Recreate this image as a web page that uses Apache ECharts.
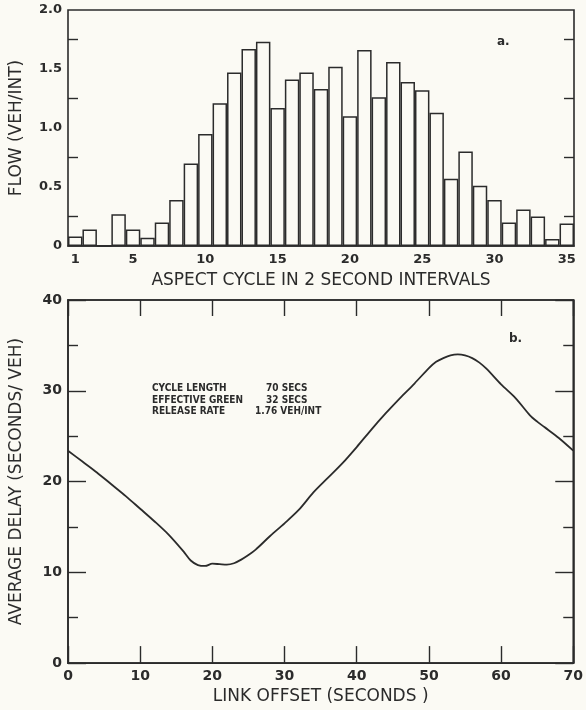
<!DOCTYPE html>
<html>
<head>
<meta charset="utf-8">
<script src="https://cdn.jsdelivr.net/npm/echarts@6/dist/echarts.min.js"></script>
<style>
  html, body { margin: 0; padding: 0; background: #fbfaf4; }
  #main { width: 586px; height: 710px; }
</style>
</head>
<body>
<div id="main"></div>
<script>
// panel a: flow per 2 second interval of the aspect cycle
const bins = ['1','2','3','4','5','6','7','8','9','10','11','12','13','14','15','16','17','18',
              '19','20','21','22','23','24','25','26','27','28','29','30','31','32','33','34','35']
const binTicks = ['1','5','10','15','20','25','30','35']
const flow = [0.08, 0.14, 0, 0.27, 0.14, 0.07, 0.20, 0.39, 0.70, 0.95, 1.21, 1.47, 1.67, 1.73, 1.17, 1.41,
              1.47, 1.33, 1.52, 1.10, 1.66, 1.26, 1.56, 1.39, 1.32, 1.13, 0.57, 0.80, 0.51, 0.39, 0.20,
              0.31, 0.25, 0.06, 0.19]

// panel b: average delay against link offset
const offset = [0, 2, 4, 6, 8, 10, 12, 14, 16, 17, 18, 19, 20, 21, 22, 23, 24, 25, 26, 28, 30, 32, 34, 36,
                38, 40, 42, 44, 46, 48, 50, 51, 52, 53, 54, 55, 56, 57, 58, 60, 62, 64, 65, 66, 68, 70]
const delay = [23.4, 22.2, 21.0, 19.7, 18.4, 17.0, 15.6, 14.1, 12.3, 11.3, 10.8, 10.7, 10.95, 10.9, 10.85,
               11.0, 11.4, 11.9, 12.5, 14.0, 15.4, 16.9, 18.8, 20.4, 22.0, 23.8, 25.7, 27.5, 29.2, 30.8,
               32.5, 33.2, 33.6, 33.9, 34.0, 33.9, 33.6, 33.1, 32.4, 30.7, 29.2, 27.3, 26.6, 26.0, 24.8, 23.4]

const noteLabels = ['CYCLE LENGTH', 'EFFECTIVE GREEN', 'RELEASE RATE']
const noteValues = ['70 SECS', '32 SECS', '1.76 VEH/INT']

const ink = '#2b2b2b'
const font = 'DejaVu Sans'

const chart = echarts.init(document.getElementById('main'))

const tickLabel = { color: ink, fontFamily: font, fontSize: 13, fontWeight: 'bold' }
const tickLabelB = { color: ink, fontFamily: font, fontSize: 14, fontWeight: 'bold' }
const axisName = { color: ink, fontFamily: font, fontSize: 17 }
const line = { onZero: false, lineStyle: { color: ink, width: 1.6 } }
const tick = len => ({ inside: true, length: len, lineStyle: { color: ink, width: 1.4 } })
const minor = { show: true, splitNumber: 2, length: 10, lineStyle: { color: ink, width: 1.4 } }

const option = {
    backgroundColor: '#fbfaf4',
    animation: false,
    grid: [
        { left: 68, top: 10, width: 506, height: 236, show: true, borderColor: ink, borderWidth: 1.6, backgroundColor: 'transparent' },
        { left: 68, top: 300, width: 506, height: 366, show: true, borderColor: ink, borderWidth: 1.6, backgroundColor: 'transparent' }
    ],
    xAxis: [
        {
            gridIndex: 0, type: 'category', data: bins, boundaryGap: true,
            axisLine: line, axisTick: { show: false },
            axisLabel: Object.assign({}, tickLabel, {
                margin: 7,
                interval: (i, v) => binTicks.includes(v)
            }),
            name: 'ASPECT CYCLE IN 2 SECOND INTERVALS', nameLocation: 'middle', nameGap: 26,
            nameTextStyle: axisName
        },
        {
            gridIndex: 1, type: 'value', min: 0, max: 70, interval: 10,
            axisLine: line, axisTick: tick(17),
            axisLabel: Object.assign({}, tickLabelB, { margin: 6 }),
            splitLine: { show: false },
            name: 'LINK OFFSET (SECONDS )', nameLocation: 'middle', nameGap: 23,
            nameTextStyle: axisName
        },
        {
            gridIndex: 1, type: 'value', position: 'top', min: 0, max: 70, interval: 10,
            axisLine: line, axisTick: tick(16),
            axisLabel: { show: false },
            splitLine: { show: false }
        }
    ],
    yAxis: [
        {
            gridIndex: 0, type: 'value', min: 0, max: 2, interval: 0.5,
            axisLine: line, axisTick: tick(18), minorTick: minor,
            axisLabel: Object.assign({}, tickLabel, {
                margin: 6,
                formatter: v => v === 0 ? '0' : v.toFixed(1)
            }),
            splitLine: { show: false },
            name: 'FLOW (VEH/INT)', nameLocation: 'middle', nameGap: 43,
            nameTextStyle: axisName
        },
        {
            gridIndex: 0, type: 'value', position: 'right', min: 0, max: 2, interval: 0.5,
            axisLine: line, axisTick: tick(18), minorTick: minor,
            axisLabel: { show: false },
            splitLine: { show: false }
        },
        {
            gridIndex: 1, type: 'value', min: 0, max: 40, interval: 10,
            axisLine: line, axisTick: tick(18), minorTick: minor,
            axisLabel: Object.assign({}, tickLabelB, { margin: 6 }),
            splitLine: { show: false },
            name: 'AVERAGE DELAY (SECONDS/ VEH)', nameLocation: 'middle', nameGap: 43,
            nameTextStyle: axisName
        },
        {
            gridIndex: 1, type: 'value', position: 'right', min: 0, max: 40, interval: 10,
            axisLine: line, axisTick: tick(18), minorTick: minor,
            axisLabel: { show: false },
            splitLine: { show: false }
        }
    ],
    series: [
        {
            type: 'bar', xAxisIndex: 0, yAxisIndex: 0,
            data: flow, barCategoryGap: '0%',
            itemStyle: { color: 'rgba(0,0,0,0)', borderColor: ink, borderWidth: 1.5 }
        },
        {
            type: 'line', xAxisIndex: 1, yAxisIndex: 2,
            data: offset.map((x, i) => [x, delay[i]]),
            smooth: 0.3, showSymbol: false,
            lineStyle: { color: ink, width: 1.8 }
        }
    ],
    graphic: [
        { type: 'text', left: 497, top: 36, style: { text: 'a.', font: 'bold 12px ' + font, fill: ink } },
        { type: 'text', left: 509, top: 333, style: { text: 'b.', font: 'bold 12px ' + font, fill: ink } },
        { type: 'text', left: 152, top: 383, style: { text: noteLabels.join('\n'), font: 'bold 10px "DejaVu Sans Condensed"', lineHeight: 11.5, fill: ink } },
        { type: 'text', left: 266, top: 383, style: { text: noteValues[0] + '\n' + noteValues[1], font: 'bold 10px "DejaVu Sans Condensed"', lineHeight: 11.5, fill: ink } },
        { type: 'text', left: 255, top: 406, style: { text: noteValues[2], font: 'bold 10px "DejaVu Sans Condensed"', lineHeight: 11.5, fill: ink } }
    ]
}

chart.setOption(option)
</script>
</body>
</html>
